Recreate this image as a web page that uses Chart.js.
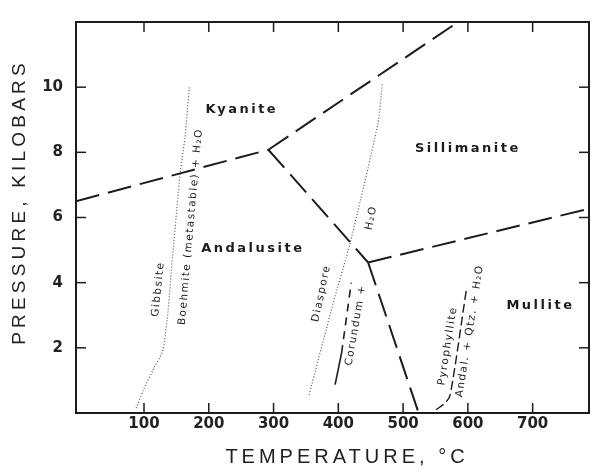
<!DOCTYPE html>
<html><head><meta charset="utf-8">
<script src="https://cdn.jsdelivr.net/npm/chart.js@4/dist/chart.umd.min.js"></script>
<style>html,body{margin:0;padding:0;background:#fff}#wrap{width:592px;height:469px}</style>
</head><body><div id="wrap"><canvas id="c" width="592" height="469"></canvas></div>
<script>
// ---- tick labels ----
const xTickValues = [100, 200, 300, 400, 500, 600, 700];
const yTickValues = [2, 4, 6, 8, 10];
const xTitle = "TEMPERATURE, °C";
const yTitle = "PRESSURE, KILOBARS";

// ---- phase boundaries (temperature °C, pressure kbar) ----
const kyaniteAndalusiteT = [-5, 292];
const kyaniteAndalusiteP = [6.5, 8.08];
const kyaniteSillimaniteT = [292, 585];
const kyaniteSillimaniteP = [8.08, 12.0];
const andalusiteSillimaniteT = [292, 446];
const andalusiteSillimaniteP = [8.08, 4.62];
const andalusiteMulliteT = [446, 524];
const andalusiteMulliteP = [4.62, 0.0];
const sillimaniteMulliteT = [446, 787];
const sillimaniteMulliteP = [4.62, 6.27];

// ---- reaction curves ----
const gibbsiteT = [88, 99, 114, 130, 145, 156, 163, 170];
const gibbsiteP = [0.15, 0.7, 1.33, 2.0, 5.0, 7.4, 8.43, 10.0];
const diasporeT = [355, 392, 418, 461, 468];
const diasporeP = [0.56, 3.37, 5.2, 8.87, 10.1];
const corundumSolidT = [395, 405];
const corundumSolidP = [0.87, 1.84];
const corundumDashT = [405, 420];
const corundumDashP = [1.84, 4.0];
const pyrophylliteT = [551, 566, 573, 598];
const pyrophylliteP = [0.1, 0.33, 0.58, 3.83];

// ---- field and curve labels ----
const fieldNames = ["Kyanite", "Sillimanite", "Andalusite", "Mullite"];
const fieldT = [251, 600, 268, 712];
const fieldP = [9.31, 8.12, 5.05, 3.31];
const curveNames = ["Gibbsite", "Boehmite (metastable) + H₂O", "Diaspore", "Corundum +", "H₂O", "Pyrophyllite", "Andal. + Qtz. + H₂O"];
const curveT = [122, 172, 374, 427, 451, 569, 603];
const curveP = [3.80, 5.72, 3.67, 2.70, 5.99, 2.06, 2.52];
const curveAngle = [-84, -85, -78, -80, -78, -81, -81];

const pts = (T, P) => T.map((t, i) => ({x: t, y: P[i]}));
const ink = '#1c1c1c';
const mkLine = (T, P, opts) => Object.assign({data: pts(T, P), showLine: true, pointRadius: 0, fill: false,
  borderColor: ink, borderWidth: 2, tension: 0}, opts);

const datasets = [
  mkLine(kyaniteAndalusiteT, kyaniteAndalusiteP, {borderDash: [24, 9]}),
  mkLine(kyaniteSillimaniteT, kyaniteSillimaniteP, {borderDash: [24, 9]}),
  mkLine(andalusiteSillimaniteT, andalusiteSillimaniteP, {borderDash: [24, 9]}),
  mkLine(andalusiteMulliteT, andalusiteMulliteP, {borderDash: [24, 9]}),
  mkLine(sillimaniteMulliteT, sillimaniteMulliteP, {borderDash: [24, 9]}),
  mkLine(gibbsiteT, gibbsiteP, {borderDash: [1, 2], borderWidth: 1.2, borderColor: '#555', tension: 0.3}),
  mkLine(diasporeT, diasporeP, {borderDash: [1, 2], borderWidth: 1.2, borderColor: '#555', tension: 0.2}),
  mkLine(corundumSolidT, corundumSolidP, {borderWidth: 1.6}),
  mkLine(corundumDashT, corundumDashP, {borderWidth: 1.6, borderDash: [8, 6]}),
  mkLine(pyrophylliteT, pyrophylliteP, {borderWidth: 1.4, borderDash: [9, 4], tension: 0.3})
];

const tickFont = {family: 'DejaVu Sans', size: 15, weight: 'bold'};

const overlay = {
  id: 'overlay',
  afterDraw(chart) {
    const {ctx, chartArea: a, scales: {x, y}} = chart;
    ctx.save();
    ctx.strokeStyle = ink;
    ctx.lineWidth = 2;
    ctx.strokeRect(a.left, a.top, a.right - a.left, a.bottom - a.top);
    ctx.lineWidth = 1.5;
    const seg = (x1, y1, x2, y2) => { ctx.beginPath(); ctx.moveTo(x1, y1); ctx.lineTo(x2, y2); ctx.stroke(); };
    xTickValues.forEach(v => { const px = x.getPixelForValue(v); seg(px, a.bottom, px, a.bottom - 10); seg(px, a.top, px, a.top + 10); });
    yTickValues.forEach(v => { const py = y.getPixelForValue(v); seg(a.left, py, a.left + 10, py); seg(a.right, py, a.right - 10, py); });

    ctx.fillStyle = ink;
    ctx.textAlign = 'center';
    ctx.textBaseline = 'middle';
    // field labels
    ctx.font = 'bold 13px "DejaVu Sans"';
    ctx.letterSpacing = '2.5px';
    fieldNames.forEach((n, i) => ctx.fillText(n, x.getPixelForValue(fieldT[i]), y.getPixelForValue(fieldP[i])));
    // curve labels
    ctx.font = '10.5px "DejaVu Sans"';
    ctx.letterSpacing = '1.5px';
    curveNames.forEach((n, i) => {
      ctx.save();
      ctx.translate(x.getPixelForValue(curveT[i]), y.getPixelForValue(curveP[i]));
      ctx.rotate(curveAngle[i] * Math.PI / 180);
      ctx.fillText(n, 0, 0);
      ctx.restore();
    });
    // axis titles
    ctx.fillStyle = '#222';
    ctx.font = '20px "Liberation Sans"';
    ctx.letterSpacing = '4px';
    ctx.fillText(xTitle, 347, 457);
    ctx.save();
    ctx.translate(20, 202);
    ctx.rotate(-Math.PI / 2);
    ctx.font = '19px "Liberation Sans"';
    ctx.letterSpacing = '4.2px';
    ctx.fillText(yTitle, 0, 0);
    ctx.restore();
    ctx.restore();
  }
};

new Chart(document.getElementById('c'), {
  type: 'scatter',
  data: {datasets},
  options: {
    responsive: false,
    devicePixelRatio: 1,
    animation: false,
    layout: {padding: {top: 20, right: 3, left: 0, bottom: 0}},
    plugins: {legend: {display: false}, tooltip: {enabled: false}},
    scales: {
      x: {
        type: 'linear', min: -5, max: 787,
        afterBuildTicks: s => { s.ticks = xTickValues.map(v => ({value: v})); },
        afterFit: s => { s.height = 56; },
        grid: {display: false, drawTicks: false},
        border: {display: true, color: ink, width: 2},
        ticks: {font: tickFont, color: '#222', padding: 2, maxRotation: 0, autoSkip: false}
      },
      y: {
        type: 'linear', min: 0, max: 12,
        afterBuildTicks: s => { s.ticks = yTickValues.map(v => ({value: v})); },
        afterFit: s => { s.width = 76; },
        grid: {display: false, drawTicks: false},
        border: {display: true, color: ink, width: 2},
        ticks: {font: tickFont, color: '#222', padding: 13, autoSkip: false}
      }
    }
  },
  plugins: [overlay]
});
</script></body></html>
